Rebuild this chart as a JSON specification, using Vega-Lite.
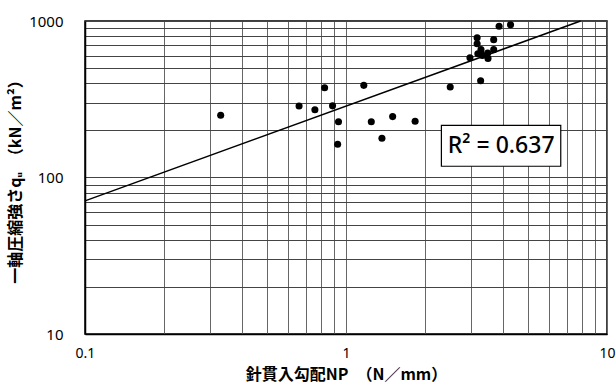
{
  "$schema": "https://vega.github.io/schema/vega-lite/v6.json",
  "autosize": {"type": "none"},
  "padding": {"left": 85, "top": 21, "right": 9, "bottom": 53},
  "width": 522,
  "height": 313,
  "background": "white",
  "config": {
    "view": {"stroke": "black", "strokeWidth": 1.5},
    "font": "Noto Sans CJK JP"
  },
  "datasets": {
    "pts": [
      {"np": 0.331, "qu": 250},
      {"np": 0.661, "qu": 286},
      {"np": 0.760, "qu": 271},
      {"np": 0.828, "qu": 375},
      {"np": 0.888, "qu": 287},
      {"np": 0.936, "qu": 227},
      {"np": 0.929, "qu": 163},
      {"np": 1.170, "qu": 388},
      {"np": 1.250, "qu": 227},
      {"np": 1.373, "qu": 178},
      {"np": 1.509, "qu": 245},
      {"np": 1.840, "qu": 229},
      {"np": 2.508, "qu": 379},
      {"np": 3.280, "qu": 415},
      {"np": 2.985, "qu": 583},
      {"np": 3.180, "qu": 782},
      {"np": 3.180, "qu": 716},
      {"np": 3.200, "qu": 618},
      {"np": 3.290, "qu": 656},
      {"np": 3.330, "qu": 603},
      {"np": 3.490, "qu": 624},
      {"np": 3.500, "qu": 577},
      {"np": 3.680, "qu": 760},
      {"np": 3.680, "qu": 656},
      {"np": 3.860, "qu": 925},
      {"np": 4.270, "qu": 947}
    ],
    "fit": [
      {"np": 0.1, "qu": 70.9},
      {"np": 7.92, "qu": 1000}
    ],
    "box": [
      {"np": 2.32, "np2": 6.65, "qu": 118, "qu2": 215, "label": "R² = 0.637", "tx": 3.93, "ty": 159}
    ]
  },
  "layer": [
    {
      "data": {"name": "pts"},
      "mark": {"type": "circle", "color": "black", "opacity": 1, "size": 50},
      "encoding": {
        "x": {
          "field": "np", "type": "quantitative",
          "scale": {"type": "log", "domain": [0.1, 10], "nice": false},
          "axis": {
            "title": "針貫入勾配NP　（N／mm）",
            "titleFontSize": 16, "titleFontWeight": "bold", "titleColor": "black", "titlePadding": 6,
            "values": [0.1,0.2,0.3,0.4,0.5,0.6,0.7,0.8,0.9,1,2,3,4,5,6,7,8,9,10],
            "format": "~g",
            "labelExpr": "abs(log(datum.value)/LN10 - round(log(datum.value)/LN10)) < 0.001 ? datum.label : ''",
            "labelFontSize": 14, "labelFontWeight": "normal", "labelColor": "black", "labelPadding": 12,
            "labelFont": "Noto Sans",
            "ticks": false, "domainColor": "black", "domainWidth": 1.5,
            "grid": true, "gridColor": "#666", "gridWidth": 1, "labelFlush": false, "labelOverlap": false
          }
        },
        "y": {
          "field": "qu", "type": "quantitative",
          "scale": {"type": "log", "domain": [10, 1000], "nice": false},
          "axis": {
            "title": "一軸圧縮強さqᵤ　（kN／m²）",
            "titleFontSize": 16, "titleFontWeight": "bold", "titleColor": "black", "titlePadding": 5,
            "values": [10,20,30,40,50,60,70,80,90,100,200,300,400,500,600,700,800,900,1000],
            "format": "~g",
            "labelExpr": "abs(log(datum.value)/LN10 - round(log(datum.value)/LN10)) < 0.001 ? datum.label : ''",
            "labelFontSize": 15, "labelFontWeight": "normal", "labelColor": "black", "labelPadding": 22,
            "labelFont": "Noto Sans",
            "ticks": false, "domainColor": "black", "domainWidth": 1.5,
            "grid": true, "gridColor": "#444", "gridWidth": 1, "labelFlush": false, "labelOverlap": false
          }
        }
      }
    },
    {
      "data": {"name": "fit"},
      "mark": {"type": "line", "color": "black", "strokeWidth": 1.5},
      "encoding": {
        "x": {"field": "np", "type": "quantitative", "scale": {"type": "log", "domain": [0.1, 10], "nice": false}},
        "y": {"field": "qu", "type": "quantitative", "scale": {"type": "log", "domain": [10, 1000], "nice": false}}
      }
    },
    {
      "data": {"name": "box"},
      "mark": {"type": "rect", "fill": "white", "stroke": "black", "strokeWidth": 1.2},
      "encoding": {
        "x": {"field": "np", "type": "quantitative", "scale": {"type": "log", "domain": [0.1, 10], "nice": false}},
        "x2": {"field": "np2"},
        "y": {"field": "qu", "type": "quantitative", "scale": {"type": "log", "domain": [10, 1000], "nice": false}},
        "y2": {"field": "qu2"}
      }
    },
    {
      "data": {"name": "box"},
      "mark": {"type": "text", "fontSize": 23, "font": "Noto Sans", "fontWeight": 500, "color": "black", "align": "center", "baseline": "middle"},
      "encoding": {
        "x": {"field": "tx", "type": "quantitative", "scale": {"type": "log", "domain": [0.1, 10], "nice": false}},
        "y": {"field": "ty", "type": "quantitative", "scale": {"type": "log", "domain": [10, 1000], "nice": false}},
        "text": {"field": "label"}
      }
    }
  ]
}
